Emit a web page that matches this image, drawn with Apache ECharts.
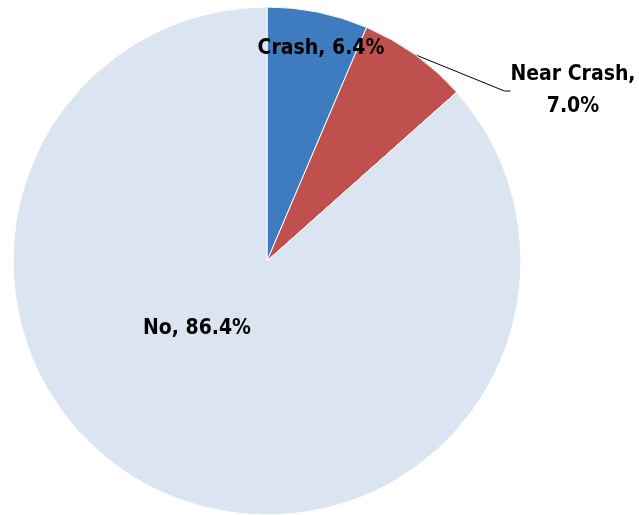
<!DOCTYPE html>
<html>
<head>
<meta charset="utf-8">
<script src="https://cdn.jsdelivr.net/npm/echarts@6/dist/echarts.min.js"></script>
<style>
html,body{margin:0;padding:0;background:#fff;}
#chart{width:639px;height:515px;}
</style>
</head>
<body>
<div id="chart"></div>
<script>
const categories = ['Crash', 'Near Crash', 'No'];
const shares = [6.4, 7.0, 86.4];
const colors = ['#3F7BBF', '#C0504D', '#DBE5F1'];

let chartDom = document.getElementById('chart');
let chart = echarts.init(chartDom);

// where each label sits (Excel placed them by hand)
const labelSpots = [
  { x: 321, y: 49 },
  { x: 573, y: 91 },
  { x: 197, y: 329 }
];

const option = {
  animation: false,
  series: [
    {
      type: 'pie',
      center: [267, 261],
      radius: 254,
      startAngle: 90,
      clockwise: true,
      itemStyle: {
        borderColor: '#ffffff',
        borderWidth: 1
      },
      label: {
        show: true,
        color: '#000',
        fontFamily: '"DejaVu Sans Condensed", "Liberation Sans Narrow", sans-serif',
        fontWeight: 'bold',
        fontSize: 21,
        lineHeight: 32,
        align: 'center',
        formatter: (p) => p.dataIndex === 1
          ? p.name + ',\n' + p.value.toFixed(1) + '%'
          : p.name + ', ' + p.value.toFixed(1) + '%'
      },
      labelLine: {
        show: false
      },
      labelLayout: (params) => {
        const s = labelSpots[params.dataIndex];
        return { x: s.x, y: s.y, align: 'center', verticalAlign: 'middle' };
      },
      data: categories.map((c, i) => ({
        name: c,
        value: shares[i],
        itemStyle: { color: colors[i] },
        label: { position: i === 1 ? 'outside' : 'inside' },
        labelLine: i === 1
          ? { show: true, length: 10, length2: 6, lineStyle: { color: '#000', width: 1 } }
          : { show: false }
      }))
    }
  ]
};
chart.setOption(option);
</script>
</body>
</html>
